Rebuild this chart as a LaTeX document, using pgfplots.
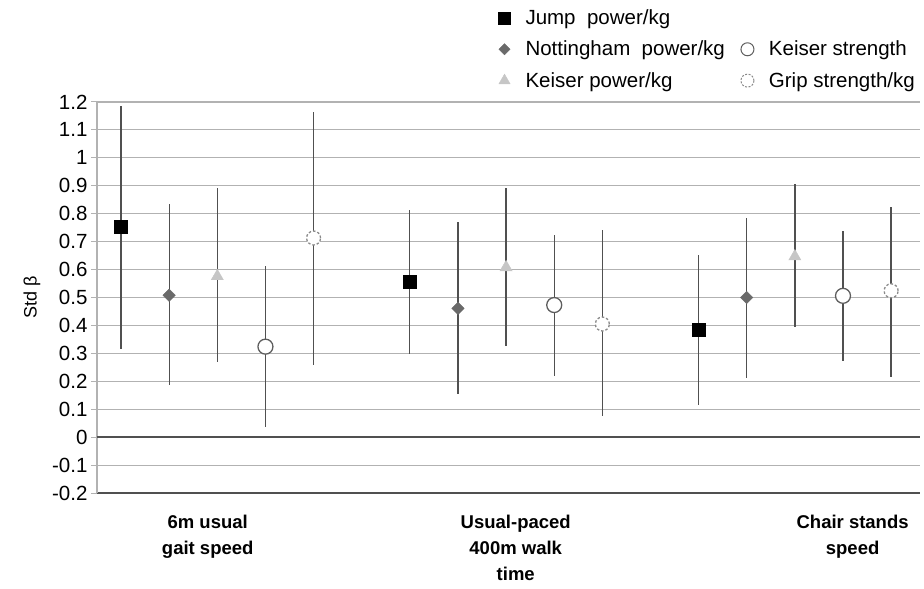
\documentclass[border=0pt]{standalone}
\usepackage{pgfplots}
\usepackage{pgfplotstable}
\pgfplotsset{compat=1.18}
\usepackage{fontspec}
\setmainfont{Liberation Sans}

\definecolor{gridgray}{HTML}{B2B2B2}
\definecolor{ci}{HTML}{505050}
\definecolor{nott}{HTML}{6A6A6A}
\definecolor{kpow}{HTML}{C6C6C6}
\definecolor{kstr}{HTML}{5E5E5E}
\definecolor{grip}{HTML}{8A8A8A}

% x: position in chart, y: std beta, lo/hi: 95% CI
\pgfplotstableread{
x y lo hi
0 0.752 0.315 1.185
6 0.556 0.298 0.815
12 0.384 0.116 0.652
}\jump
\pgfplotstableread{
x y lo hi
1 0.508 0.187 0.836
7 0.461 0.155 0.771
13 0.500 0.211 0.784
}\nott
\pgfplotstableread{
x y lo hi
2 0.576 0.268 0.891
8 0.608 0.328 0.891
14 0.647 0.393 0.906
}\kpow
\pgfplotstableread{
x y lo hi
3 0.324 0.036 0.614
9 0.473 0.220 0.723
15 0.506 0.274 0.737
}\kstr
\pgfplotstableread{
x y lo hi
4 0.713 0.259 1.165
10 0.405 0.077 0.741
16 0.524 0.217 0.825
}\grip

\pgfplotsset{
  ci bars/.style={only marks, forget plot,
    error bars/y dir=both, error bars/y explicit, error bars/error mark=none,
    error bars/error bar style={ci, line width=1.3pt}},
}

\begin{document}
\begin{tikzpicture}
\begin{axis}[
    scale only axis, width=823pt, height=391pt,
    xmin=-0.5, xmax=16.6, ymin=-0.2, ymax=1.2,
    ytick={-0.2,-0.1,...,1.21},
    xtick={1.8,8.2,15.2},
    xticklabels={6m usual\\gait speed, Usual-paced\\400m walk\\time, Chair stands\\speed},
    xticklabel style={align=center, font=\fontsize{18.5}{26}\selectfont\bfseries, anchor=north, yshift=-13pt},
    x tick style={draw=none},
    yticklabel style={font=\fontsize{20.5}{20.5}\selectfont},
    /pgf/number format/assume math mode=true,
    tick align=outside, major tick length=6pt,
    y tick style={gridgray, line width=1pt},
    ymajorgrids, grid style={gridgray, line width=1.1pt},
    axis lines*=left,
    x axis line style={draw=ci, line width=1.8pt},
    y axis line style={draw=gridgray, line width=1.1pt},
    extra y ticks={0}, extra y tick labels={},
    extra y tick style={grid style={ci, line width=1.6pt}},
    ylabel={Std β},
    ylabel style={font=\fontsize{18}{18}\selectfont, at={(axis description cs:-0.079,0.5)}, anchor=center},
    clip=false,
    legend columns=2,
    legend cell align=left,
    legend style={at={(rel axis cs:1,1)}, anchor=south east, yshift=9pt, draw=none, fill=none,
      font=\fontsize{20.5}{20.5}\selectfont, row sep=11pt,
      /tikz/every odd column/.append style={column sep=13pt},
      /tikz/every even column/.append style={column sep=12pt}},
]
\addplot[ci bars, mark=square*, mark size=6.5pt, mark options={fill=black, draw=black}]
  table[x=x, y=y, y error plus expr=\thisrow{hi}-\thisrow{y}, y error minus expr=\thisrow{y}-\thisrow{lo}] {\jump};
\addplot[ci bars, mark=square*, mark size=4.4pt, mark options={fill=nott, draw=nott, rotate=45}]
  table[x=x, y=y, y error plus expr=\thisrow{hi}-\thisrow{y}, y error minus expr=\thisrow{y}-\thisrow{lo}] {\nott};
\addplot[ci bars, mark=triangle*, mark size=7pt, mark options={fill=kpow, draw=kpow}]
  table[x=x, y=y, y error plus expr=\thisrow{hi}-\thisrow{y}, y error minus expr=\thisrow{y}-\thisrow{lo}] {\kpow};
\addplot[ci bars, mark=*, mark size=7.5pt, mark options={fill=white, draw=kstr, line width=1.3pt}]
  table[x=x, y=y, y error plus expr=\thisrow{hi}-\thisrow{y}, y error minus expr=\thisrow{y}-\thisrow{lo}] {\kstr};
\addplot[ci bars, mark=*, mark size=7pt, mark options={fill=white, draw=grip, line width=1.3pt, dash pattern=on 2.5pt off 2pt}]
  table[x=x, y=y, y error plus expr=\thisrow{hi}-\thisrow{y}, y error minus expr=\thisrow{y}-\thisrow{lo}] {\grip};

\addlegendimage{only marks, mark=square*, mark size=6pt, mark options={fill=black, draw=black}}
\addlegendentry{Jump\ \ power/kg}
\addlegendimage{empty legend}
\addlegendentry{}
\addlegendimage{only marks, mark=square*, mark size=4pt, mark options={fill=nott, draw=nott, rotate=45}}
\addlegendentry{Nottingham\ \ power/kg}
\addlegendimage{only marks, mark=*, mark size=6.5pt, mark options={fill=white, draw=kstr, line width=1pt}}
\addlegendentry{Keiser strength}
\addlegendimage{only marks, mark=triangle*, mark size=6.5pt, mark options={fill=kpow, draw=kpow}}
\addlegendentry{Keiser power/kg}
\addlegendimage{only marks, mark=*, mark size=6.5pt, mark options={fill=white, draw=grip, line width=1pt, dash pattern=on 2pt off 1.5pt}}
\addlegendentry{Grip strength/kg}
\end{axis}
\path (-97pt,-96pt) rectangle (827pt,493pt);
\end{tikzpicture}
\end{document}
